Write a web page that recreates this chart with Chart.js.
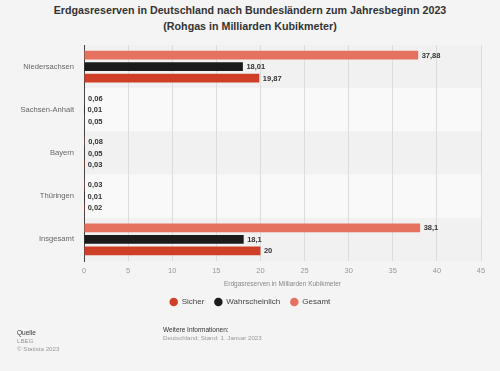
<!DOCTYPE html>
<html>
<head>
<meta charset="utf-8">
<script src="https://cdn.jsdelivr.net/npm/chart.js@4"></script>
<style>
  body { margin: 0; background: #f4f4f4; font-family: "Liberation Sans", Arial, sans-serif; }
  #wrap { position: relative; width: 500px; height: 371px; overflow: hidden; }
  #title { position: absolute; top: 3px; left: 0; width: 500px; text-align: center;
           font-weight: bold; font-size: 10.7px; line-height: 15.5px; color: #333; }
  canvas { position: absolute; top: 0; left: 0; }
  .foot { position: absolute; font-size: 6.2px; line-height: 8px; color: #999; }
  .foot b { font-weight: normal; color: #333; font-size: 6.5px; }
</style>
</head>
<body>
<div id="wrap">
  <div id="title">Erdgasreserven in Deutschland nach Bundesländern zum Jahresbeginn 2023<br>(Rohgas in Milliarden Kubikmeter)</div>
  <canvas id="chart" width="500" height="371"></canvas>
  <div class="foot" style="left:17px; top:329px;"><b>Quelle</b><br>LBEG<br>© Statista 2023</div>
  <div class="foot" style="left:163px; top:325.5px;"><b>Weitere Informationen:</b><br>Deutschland; Stand: 1. Januar 2023</div>
</div>
<script>
const categories = ["Niedersachsen", "Sachsen-Anhalt", "Bayern", "Thüringen", "Insgesamt"];
const gesamt = [37.88, 0.06, 0.08, 0.03, 38.1];
const wahrscheinlich = [18.01, 0.01, 0.05, 0.01, 18.1];
const sicher = [19.87, 0.05, 0.03, 0.02, 20];
const xTicks = [0, 5, 10, 15, 20, 25, 30, 35, 40, 45];

const COLORS = {
  sicher: "#cf3f28",
  wahrscheinlich: "#1b1b1b",
  gesamt: "#e5725e",
  bandDark: "#f1f1f1",
  bandLight: "#f9f9f9",
  grid: "#dcdcdc",
};
const FONT = "'Liberation Sans', Arial, sans-serif";

const fmt = (v) => String(v).replace(".", ",");

// alternating row backgrounds behind the bars
const rowBands = {
  id: "rowBands",
  beforeDraw(chart) {
    const { ctx, chartArea, scales } = chart;
    const y = scales.y;
    const half = (chartArea.bottom - chartArea.top) / categories.length / 2;
    ctx.save();
    categories.forEach((_, i) => {
      const c = y.getPixelForValue(i);
      ctx.fillStyle = i % 2 === 0 ? COLORS.bandDark : COLORS.bandLight;
      ctx.fillRect(chartArea.left, c - half, chartArea.right - chartArea.left, half * 2);
    });
    ctx.restore();
  },
};

// value labels at the end of each bar
const barLabels = {
  id: "barLabels",
  afterDatasetsDraw(chart) {
    const { ctx } = chart;
    ctx.save();
    ctx.font = "bold 7.5px " + FONT;
    ctx.fillStyle = "#333";
    ctx.textBaseline = "middle";
    chart.data.datasets.forEach((ds, di) => {
      chart.getDatasetMeta(di).data.forEach((el, i) => {
        ctx.fillText(fmt(ds.data[i]), el.x + 3.5, el.y + 0.5);
      });
    });
    ctx.restore();
  },
};

// center the legend on the page instead of the padded box
const legendShift = {
  id: "legendShift",
  afterLayout(chart) {
    const lg = chart.legend;
    if (!lg) return;
    lg.left += 9.5;
    lg.right += 9.5;
  },
};

new Chart(document.getElementById("chart"), {
  type: "bar",
  data: {
    labels: categories,
    datasets: [
      { label: "Gesamt", data: gesamt, backgroundColor: COLORS.gesamt },
      { label: "Wahrscheinlich", data: wahrscheinlich, backgroundColor: COLORS.wahrscheinlich },
      { label: "Sicher", data: sicher, backgroundColor: COLORS.sicher },
    ],
  },
  options: {
    indexAxis: "y",
    responsive: false,
    animation: false,
    categoryPercentage: 0.8,
    barPercentage: 0.75,
    layout: { padding: { top: 45, right: 19, left: 0, bottom: 55 } },
    plugins: {
      legend: {
        position: "bottom",
        reverse: true,
        labels: {
          usePointStyle: true,
          pointStyle: "circle",
          boxWidth: 8,
          boxHeight: 6,
          padding: 10,
          color: "#444",
          font: { size: 8, family: FONT },
        },
      },
      tooltip: { enabled: false },
    },
    scales: {
      x: {
        min: 0,
        max: 45,
        afterBuildTicks: (s) => { s.ticks = xTicks.map((v) => ({ value: v })); },
        afterFit: (s) => { s.height = 27; },
        grid: { color: COLORS.grid, drawTicks: false },
        border: { display: false },
        ticks: { color: "#999", padding: 5.5, font: { size: 7.5, family: FONT } },
        title: {
          display: true,
          text: "Erdgasreserven in Milliarden Kubikmeter",
          color: "#888",
          padding: { top: 0, bottom: 0 },
          font: { size: 6.5, family: FONT },
        },
      },
      y: {
        afterFit: (s) => { s.width = 84; },
        grid: { display: false },
        border: { display: true, color: "#444", width: 1 },
        ticks: { color: "#666", padding: 2, font: { size: 7.6, family: FONT } },
      },
    },
  },
  plugins: [rowBands, barLabels, legendShift],
});
</script>
</body>
</html>
